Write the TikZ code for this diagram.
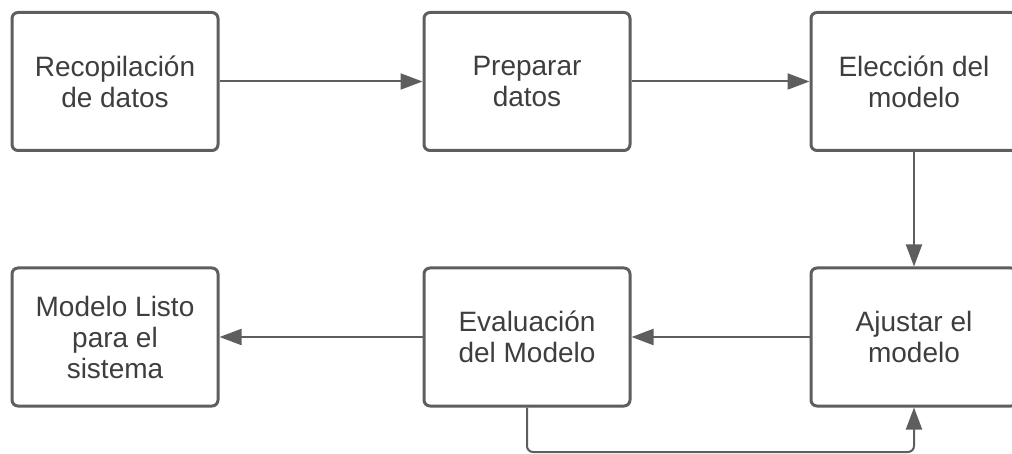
\documentclass[tikz,border=0pt]{standalone}
\usepackage{fontspec}
\setmainfont{Liberation Sans}
\usetikzlibrary{arrows.meta}
\definecolor{linegray}{RGB}{94,94,94}
\definecolor{textgray}{RGB}{62,62,62}
\newcommand{\boxfont}{\fontsize{28}{31}\selectfont}
\begin{document}
\begin{tikzpicture}[x=1pt,y=-1pt,
    box/.style={draw=linegray, line width=3pt, rounded corners=6pt,
      minimum width=206pt, minimum height=138pt, align=center,
      text=textgray, font=\boxfont, inner sep=0pt},
    link/.style={draw=linegray, line width=2pt,
      -{Triangle[length=22pt,width=16pt]}}]
  \useasboundingbox (0,0) rectangle (1012,454);
  \draw
    (115,81.5) node[box] (recop){Recopilación\\de datos}
    (527,81.5) node[box] (prep){Preparar\\datos}
    (914,81.5) node[box] (elec){Elección del\\modelo}
    (914,337) node[box] (ajus){Ajustar el\\modelo}
    (527,337) node[box] (eval){Evaluación\\del Modelo}
    (115,337) node[box] (listo){Modelo Listo\\para el\\sistema};
  \coordinate (loop) at (527,452);
  \begin{scope}[link]
    \draw (recop) to (prep);
    \draw (prep) to (elec);
    \draw (elec) to (ajus);
    \draw (ajus) to (eval);
    \draw (eval) to (listo);
    \draw[rounded corners=6pt] (eval) -- (loop) -| (ajus);
  \end{scope}
\end{tikzpicture}
\end{document}
